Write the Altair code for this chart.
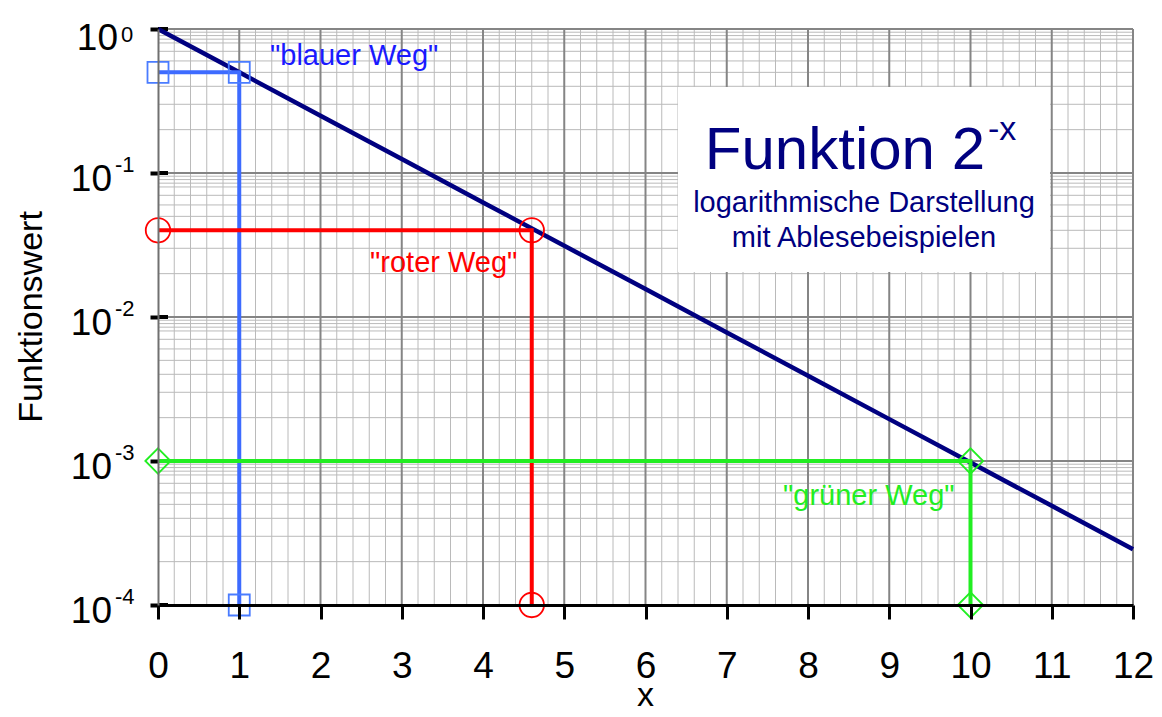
import altair as alt
import pandas as pd

FONT = "Liberation Sans"

# ---------------- data ----------------
func_x = [0, 1, 2, 3, 4, 5, 6, 7, 8, 9, 10, 11, 12]
func_y = [1.0, 0.5, 0.25, 0.125, 0.0625, 0.03125, 0.015625, 0.0078125,
          0.00390625, 0.001953125, 0.0009765625, 0.00048828125, 0.000244140625]

blue_x = [0, 1, 1]
blue_y = [0.5, 0.5, 0.0001]
red_x = [0, 4.6, 4.6]
red_y = [0.04, 0.04, 0.0001]
green_x = [0, 10, 10]
green_y = [0.001, 0.001, 0.0001]

x_ticks = [0, 1, 2, 3, 4, 5, 6, 7, 8, 9, 10, 11, 12]
y_exponents = [0, -1, -2, -3, -4]
decades = [1e-4, 1e-3, 1e-2, 1e-1, 1.0]

label_blue = '"blauer Weg"'
label_red = '"roter Weg"'
label_green = '"grüner Weg"'
title_main = "Funktion 2"
title_sup = "-x"
subtitle_1 = "logarithmische Darstellung"
subtitle_2 = "mit Ablesebeispielen"
y_title = "Funktionswert"
x_title = "x"

# grid lines (graph paper)
minor_x = [round(i * 0.2, 2) for i in range(61) if i % 5 != 0]
major_x = [1, 2, 3, 4, 5, 6, 7, 8, 9, 10, 11, 12]
mantissas = [2, 3, 4, 5, 6, 7, 8, 8.5, 9, 9.5]
minor_y = [m * 10.0 ** e for e in range(-4, 0) for m in mantissas]
major_y = [1e-3, 1e-2, 1e-1, 1.0]

# ---------------- styling ----------------
NAVY = "#000080"
BLUE_LINE = "#3d6bff"
BLUE_MARK = "#4a7cff"
BLUE_TEXT = "#1a1aff"
RED = "#ff0000"
GREEN = "#22ee22"
MINOR = "#bababa"
MAJOR = "#858585"

xs = alt.Scale(domain=[0, 12], nice=False, zero=False)
ys = alt.Scale(type="log", domain=[1e-4, 1], nice=False)

x_axis = alt.Axis(values=x_ticks, format="d", labelFontSize=37, labelFont=FONT,
                  labelColor="black", labelBaseline="alphabetic", labelPadding=58,
                  labelFlush=False, labelOverlap=False,
                  tickSize=14, tickWidth=3, tickColor="black",
                  domainColor="black", domainWidth=3, grid=False, title=None, zindex=1)
y_axis = alt.Axis(values=decades, labels=False, tickSize=8, tickWidth=4, tickColor="black",
                  domainColor="#707070", domainWidth=2, grid=False, title=None, zindex=1)


def X(field):
    return alt.X(field, type="quantitative", scale=xs, axis=x_axis)


def Y(field):
    return alt.Y(field, type="quantitative", scale=ys, axis=y_axis)


layers = []

# grid
layers.append(alt.Chart(pd.DataFrame({"gx": minor_x})).mark_rule(color=MINOR, strokeWidth=1)
              .encode(x=X("gx")))
layers.append(alt.Chart(pd.DataFrame({"gy": minor_y})).mark_rule(color=MINOR, strokeWidth=1)
              .encode(y=Y("gy")))
layers.append(alt.Chart(pd.DataFrame({"gx": major_x})).mark_rule(color=MAJOR, strokeWidth=2)
              .encode(x=X("gx")))
layers.append(alt.Chart(pd.DataFrame({"gy": major_y})).mark_rule(color=MAJOR, strokeWidth=2)
              .encode(y=Y("gy")))

# inward part of the y ticks
layers.append(alt.Chart(pd.DataFrame({"gy": decades})).mark_rule(color="black", strokeWidth=4)
              .encode(y=Y("gy"), x=alt.value(0), x2=alt.value(10)))

# white info box
layers.append(alt.Chart(alt.Data(values=[{"a": 1}])).mark_rect(fill="white", stroke=None)
              .encode(x=alt.value(520), x2=alt.value(892), y=alt.value(58), y2=alt.value(243)))

# function line
layers.append(alt.Chart(pd.DataFrame({"x": func_x, "y": func_y})).mark_line(color=NAVY, strokeWidth=4.5)
              .encode(x=X("x"), y=Y("y")))


def path(xv, yv, color, mark_color, shape, size):
    df = pd.DataFrame({"x": xv, "y": yv, "i": list(range(len(xv)))})
    ln = alt.Chart(df).mark_line(color=color, strokeWidth=4).encode(
        x=X("x"), y=Y("y"), order="i:Q")
    pt = alt.Chart(df).mark_point(shape=shape, size=size, filled=False, opacity=1,
                                  strokeWidth=1.8, color=mark_color).encode(x=X("x"), y=Y("y"))
    return [ln, pt]


layers += path(blue_x, blue_y, BLUE_LINE, BLUE_MARK, "square", 441)
layers += path(red_x, red_y, RED, RED, "circle", 600)
layers += path(green_x, green_y, GREEN, GREEN, "diamond", 640)


def text(t, x, y, size, color, align="left", angle=0):
    return alt.Chart(alt.Data(values=[{"t": t}])).mark_text(
        font=FONT, fontSize=size, color=color, align=align, baseline="alphabetic", angle=angle
    ).encode(text="t:N", x=alt.value(x), y=alt.value(y))


layers.append(text(label_blue, 112, 36, 29, BLUE_TEXT))
layers.append(text(label_red, 212, 243, 29, RED))
layers.append(text(label_green, 625, 476, 29, GREEN))

layers.append(text(title_main, 827, 140, 60, NAVY, align="right"))
layers.append(text(title_sup, 830, 111, 34, NAVY))
layers.append(text(subtitle_1, 706, 183, 29, NAVY, align="center"))
layers.append(text(subtitle_2, 706, 218, 29, NAVY, align="center"))

layers.append(text(y_title, -116, 288, 34, "black", align="center", angle=270))
layers.append(text(x_title, 487.5, 677, 34, "black", align="center"))

# y tick labels 10^n
ydf = pd.DataFrame({"e": y_exponents})
ybase = alt.Chart(ydf).transform_calculate(v="pow(10, datum.e)", s="'' + datum.e", b="'10'")
for cond, bx, bdy, ex, edy in [("datum.e == 0", -40, 21, -37, 13), ("datum.e < 0", -46, 18, -43, -1)]:
    layers.append(ybase.transform_filter(cond).mark_text(
        font=FONT, fontSize=37, color="black", align="right", baseline="alphabetic", dy=bdy
    ).encode(text="b:N", y=Y("v"), x=alt.value(bx)))
    layers.append(ybase.transform_filter(cond).mark_text(
        font=FONT, fontSize=22, color="black", align="left", baseline="alphabetic", dy=edy
    ).encode(text="s:N", y=Y("v"), x=alt.value(ex)))

chart = alt.layer(*layers).properties(
    width=975, height=576,
    padding={"left": 150, "top": 21, "right": 20, "bottom": 104},
    autosize=alt.AutoSizeParams(type="none"),
    background="white",
).configure_view(stroke=None)

chart.save("out.html", embed_options={"renderer": "svg", "actions": False})
